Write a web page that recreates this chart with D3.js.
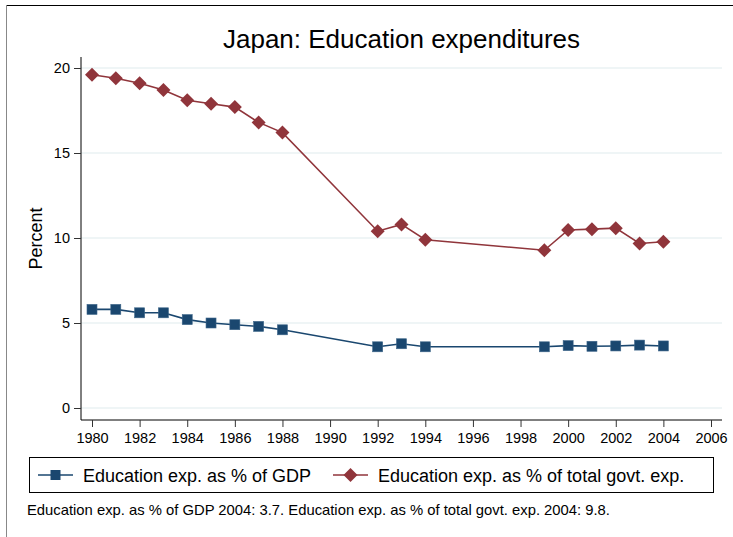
<!DOCTYPE html>
<html><head><meta charset="utf-8">
<script src="https://cdn.jsdelivr.net/npm/d3@7"></script>
<style>body{margin:0;background:#fff}svg{display:block;font-family:"Liberation Sans",Arial,sans-serif}</style>
</head><body><svg id="c" width="733" height="537"></svg>
<script>
const years = [1980,1981,1982,1983,1984,1985,1986,1987,1988,1992,1993,1994,1999,2000,2001,2002,2003,2004];
const gdpShare = [5.8,5.8,5.6,5.6,5.2,5.0,4.9,4.8,4.6,3.6,3.78,3.6,3.6,3.67,3.63,3.65,3.7,3.65];
const govtShare = [19.6,19.4,19.1,18.7,18.1,17.9,17.7,16.8,16.2,10.4,10.8,9.9,9.28,10.47,10.52,10.58,9.68,9.78];
const xTicks = [1980,1982,1984,1986,1988,1990,1992,1994,1996,1998,2000,2002,2004,2006];
const yTicks = [0,5,10,15,20];
const seriesNames = ["Education exp. as % of GDP","Education exp. as % of total govt. exp."];
const title = "Japan: Education expenditures";
const yTitle = "Percent";
const note = "Education exp. as % of GDP 2004: 3.7. Education exp. as % of total govt. exp. 2004: 9.8.";
const navy = "#1a476f", maroon = "#90353b", grid = "#eaf2f3";
const FF = "Liberation Sans, Arial, sans-serif";

const svg = d3.select("#c");
svg.append("line").attr("x1",6).attr("x2",733).attr("y1",5.5).attr("y2",5.5).attr("stroke","#000").attr("stroke-width",1.2);
svg.append("line").attr("x1",6.5).attr("x2",6.5).attr("y1",5).attr("y2",537).attr("stroke","#888").attr("stroke-width",1);

const x = d3.scaleLinear().domain([1980,2006]).range([92,711]);
const y = d3.scaleLinear().domain([0,20]).range([408,68]);
const plotL = 81, plotR = 722, plotT = 57, plotB = 420;

svg.append("g").selectAll("line").data(yTicks).join("line")
  .attr("x1",plotL).attr("x2",plotR).attr("y1",d=>y(d)).attr("y2",d=>y(d))
  .attr("stroke",grid).attr("stroke-width",1.5);

const yAxis = svg.append("g").attr("transform",`translate(${plotL},0)`)
  .call(d3.axisLeft(y).tickValues(yTicks).tickSize(7).tickPadding(4).tickFormat(d3.format("d")));
yAxis.select(".domain").attr("d",`M0,${plotT}V${plotB}`).attr("stroke","#000");
yAxis.selectAll(".tick line").attr("stroke","#333");
yAxis.selectAll("text").attr("font-size",14.5).attr("fill","#000").attr("font-family",FF);

const xAxis = svg.append("g").attr("transform",`translate(0,${plotB})`)
  .call(d3.axisBottom(x).tickValues(xTicks).tickSize(7).tickPadding(6).tickFormat(d3.format("d")));
xAxis.select(".domain").attr("d",`M${plotL},0H${plotR}`).attr("stroke","#000");
xAxis.selectAll(".tick line").attr("stroke","#333");
xAxis.selectAll("text").attr("font-size",14.5).attr("fill","#000").attr("font-family",FF);

svg.append("text").attr("transform",`translate(42,${(plotT+plotB)/2}) rotate(-90)`)
  .attr("text-anchor","middle").attr("font-size",18).text(yTitle);

svg.append("text").attr("x",(plotL+plotR)/2).attr("y",48).attr("text-anchor","middle")
  .attr("font-size",26).text(title);

const line = d3.line().x(d=>x(d[0])).y(d=>y(d[1]));
const s1 = years.map((yr,i)=>[yr,gdpShare[i]]);
const s2 = years.map((yr,i)=>[yr,govtShare[i]]);

svg.append("path").datum(s1).attr("d",line).attr("fill","none").attr("stroke",navy).attr("stroke-width",1.6);
svg.append("path").datum(s2).attr("d",line).attr("fill","none").attr("stroke",maroon).attr("stroke-width",1.6);

const sq = 10, dm = 7;
svg.append("g").selectAll("rect").data(s1).join("rect")
  .attr("x",d=>x(d[0])-sq/2).attr("y",d=>y(d[1])-sq/2).attr("width",sq).attr("height",sq)
  .attr("fill",navy).attr("stroke","#3d6589").attr("stroke-width",0.6);
svg.append("g").selectAll("path").data(s2).join("path")
  .attr("d",d=>`M${x(d[0])},${y(d[1])-dm}L${x(d[0])+dm},${y(d[1])}L${x(d[0])},${y(d[1])+dm}L${x(d[0])-dm},${y(d[1])}Z`)
  .attr("fill",maroon);

const lg = svg.append("g");
lg.append("rect").attr("x",29.5).attr("y",457.5).attr("width",684).attr("height",35)
  .attr("fill","#fff").attr("stroke","#000").attr("stroke-width",1);
const lx = [38,333];
const lt = [83,378];
[navy,maroon].forEach((c,i)=>{
  const cy = 475, x0 = lx[i], x1 = lx[i]+35, cx=(x0+x1)/2;
  lg.append("line").attr("x1",x0).attr("x2",x1).attr("y1",cy).attr("y2",cy).attr("stroke",c).attr("stroke-width",1.6);
  if(i===0) lg.append("rect").attr("x",cx-5).attr("y",cy-5).attr("width",10).attr("height",10).attr("fill",c);
  else lg.append("path").attr("d",`M${cx},${cy-7}L${cx+7},${cy}L${cx},${cy+7}L${cx-7},${cy}Z`).attr("fill",c);
  lg.append("text").attr("x",lt[i]).attr("y",482).attr("font-size",18).text(seriesNames[i]);
});

svg.append("text").attr("x",27).attr("y",515).attr("font-size",14.8).text(note);
</script></body></html>
